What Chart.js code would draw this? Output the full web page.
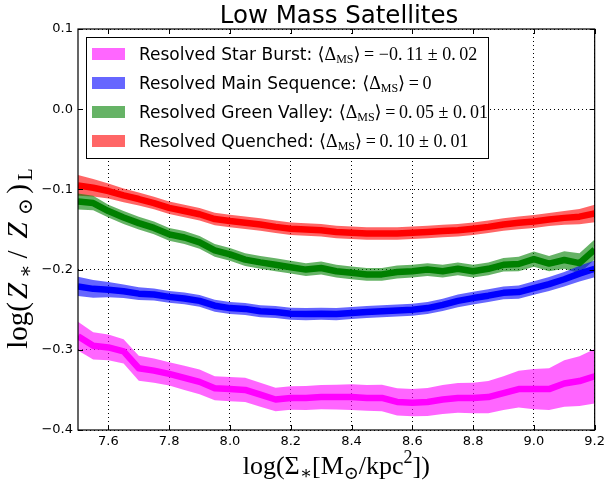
<!DOCTYPE html>
<html>
<head>
<meta charset="utf-8">
<script src="https://cdn.jsdelivr.net/npm/chart.js@4.4.0/dist/chart.umd.min.js"></script>
<style>
  html, body { margin: 0; padding: 0; background: #fff; }
  #wrap { width: 609px; height: 487px; }
</style>
</head>
<body>
<div id="wrap"><canvas id="chart"></canvas></div>
<script>
/* Low Mass Satellites: metallicity vs surface density by SF class */

const SIGMA = [7.5, 7.55, 7.6, 7.65, 7.7, 7.75, 7.8, 7.85, 7.9, 7.95,
               8.0, 8.05, 8.1, 8.15, 8.2, 8.25, 8.3, 8.35, 8.4, 8.45,
               8.5, 8.55, 8.6, 8.65, 8.7, 8.75, 8.8, 8.85, 8.9, 8.95,
               9.0, 9.05, 9.1, 9.15, 9.2];

const X_TICKS = [7.6, 7.8, 8.0, 8.2, 8.4, 8.6, 8.8, 9.0, 9.2];
const Y_TICKS = [-0.4, -0.3, -0.2, -0.1, 0.0, 0.1];

// star burst
const SB_MED = [-0.283, -0.295, -0.297, -0.302, -0.323, -0.326, -0.330, -0.335, -0.340, -0.348,
                -0.349, -0.350, -0.356, -0.362, -0.360, -0.360, -0.359, -0.359, -0.359, -0.360,
                -0.360, -0.365, -0.366, -0.365, -0.362, -0.360, -0.360, -0.359, -0.354, -0.349,
                -0.349, -0.349, -0.342, -0.339, -0.333];
const SB_ERR = [0.018, 0.017, 0.016, 0.015, 0.0155, 0.015, 0.0146, 0.015, 0.0154, 0.015,
                0.015, 0.015, 0.015, 0.0146, 0.0146, 0.015, 0.015, 0.0155, 0.016, 0.016,
                0.0165, 0.017, 0.017, 0.0175, 0.018, 0.0185, 0.019, 0.020, 0.021, 0.023,
                0.025, 0.026, 0.029, 0.031, 0.034];

// main sequence
const MS_MED = [-0.221, -0.224, -0.225, -0.227, -0.230, -0.231, -0.234, -0.236, -0.239, -0.245,
                -0.248, -0.249, -0.252, -0.253, -0.255, -0.2555, -0.255, -0.2555, -0.254, -0.253,
                -0.252, -0.251, -0.250, -0.248, -0.244, -0.239, -0.2355, -0.2325, -0.229, -0.228,
                -0.223, -0.218, -0.212, -0.205, -0.199];
const MS_ERR = [0.012, 0.011, 0.0095, 0.0085, 0.008, 0.0075, 0.0073, 0.0073, 0.0073, 0.0075,
                0.0075, 0.0075, 0.0075, 0.0075, 0.0075, 0.0075, 0.0075, 0.0075, 0.0075, 0.0075,
                0.0075, 0.0075, 0.0075, 0.0075, 0.0075, 0.0078, 0.008, 0.008, 0.008, 0.0082,
                0.0085, 0.0088, 0.009, 0.0097, 0.0104];

// green valley
const GV_MED = [-0.115, -0.117, -0.127, -0.135, -0.142, -0.148, -0.156, -0.160, -0.166, -0.176,
                -0.181, -0.1875, -0.191, -0.194, -0.197, -0.200, -0.198, -0.202, -0.204, -0.206,
                -0.206, -0.203, -0.202, -0.200, -0.202, -0.199, -0.202, -0.199, -0.194, -0.193,
                -0.187, -0.1925, -0.188, -0.192, -0.175];
const GV_ERR = [0.010, 0.009, 0.008, 0.008, 0.008, 0.008, 0.008, 0.008, 0.008, 0.008,
                0.008, 0.008, 0.008, 0.008, 0.008, 0.008, 0.008, 0.008, 0.008, 0.008,
                0.008, 0.008, 0.008, 0.008, 0.008, 0.008, 0.008, 0.008, 0.0085, 0.009,
                0.0095, 0.0095, 0.011, 0.0125, 0.0125];

// quenched
const Q_MED = [-0.095, -0.098, -0.102, -0.1075, -0.112, -0.117, -0.123, -0.127, -0.131, -0.137,
               -0.1395, -0.1415, -0.1438, -0.1467, -0.149, -0.150, -0.151, -0.153, -0.154, -0.155,
               -0.155, -0.155, -0.154, -0.153, -0.152, -0.151, -0.149, -0.1467, -0.1438, -0.1417,
               -0.140, -0.1375, -0.1355, -0.134, -0.130];
const Q_ERR = [0.013, 0.011, 0.0095, 0.0085, 0.008, 0.0078, 0.0078, 0.0078, 0.0078, 0.0078,
               0.0078, 0.0078, 0.0078, 0.0078, 0.0078, 0.0078, 0.0078, 0.0078, 0.0078, 0.0078,
               0.0078, 0.0078, 0.0078, 0.0078, 0.0078, 0.0078, 0.0078, 0.0078, 0.0078, 0.008,
               0.008, 0.0082, 0.0085, 0.0095, 0.011];

const LEGEND_NAMES = ['Resolved Star Burst:', 'Resolved Main Sequence:',
                      'Resolved Green Valley:', 'Resolved Quenched:'];
const LEGEND_VALUES = ['\u2009= \u22120.\u200911 \u00b1 0.\u200902',
                       '\u2009=\u20090',
                       '\u2009=\u20090.\u200905 \u00b1 0.\u200901',
                       '\u2009=\u20090.\u200910 \u00b1 0.\u200901'];

const LINE_COLORS = ['#ff00ff', '#0000ff', '#008000', '#ff0000'];
const BAND_COLORS = ['rgba(255,0,255,0.6)', 'rgba(0,0,255,0.6)', 'rgba(0,128,0,0.6)', 'rgba(255,0,0,0.6)'];
const PATCH_COLORS = ['#ff66ff', '#6666ff', '#66b366', '#ff6666'];

const SERIES = [[SB_MED, SB_ERR], [MS_MED, MS_ERR], [GV_MED, GV_ERR], [Q_MED, Q_ERR]];

const SANS = '"DejaVu Sans"';
const SERIF = '"Liberation Serif", "DejaVu Serif", serif';

/* ── DATASETS: band (upper fills to lower) + median line ─────── */
const datasets = [];
SERIES.forEach(([med, err], i) => {
  datasets.push({
    data: SIGMA.map((x, k) => ({ x, y: med[k] + err[k] })),
    backgroundColor: BAND_COLORS[i], borderColor: 'rgba(0,0,0,0)', borderWidth: 0,
    pointRadius: 0, fill: '+1', clip: 0
  });
  datasets.push({
    data: SIGMA.map((x, k) => ({ x, y: med[k] - err[k] })),
    borderColor: 'rgba(0,0,0,0)', borderWidth: 0, pointRadius: 0, fill: false, clip: 0
  });
});
SERIES.forEach(([med], i) => {
  datasets.push({
    data: SIGMA.map((x, k) => ({ x, y: med[k] })),
    borderColor: LINE_COLORS[i], borderWidth: 6.5, borderJoinStyle: 'round',
    pointRadius: 0, fill: false, clip: 0
  });
});

/* draw a run of text pieces, each with its own font and baseline shift;
   a piece with w gets a fixed slot and is centred in it */
function drawRich(ctx, x, y, parts, align) {
  const adv = p => { ctx.font = p.f; return p.w || ctx.measureText(p.t).width; };
  const w = parts.reduce((s, p) => s + adv(p), 0);
  let cx = align === 'center' ? x - w / 2 : x;
  ctx.textAlign = 'left';
  ctx.textBaseline = 'alphabetic';
  parts.forEach(p => {
    ctx.font = p.f;
    const mw = ctx.measureText(p.t).width;
    const slot = p.w || mw;
    ctx.fillText(p.t, cx + (slot - mw) / 2, y + (p.dy || 0));
    cx += slot;
  });
  return cx;
}

const decor = {
  id: 'decor',
  afterDraw(chart) {
    const { ctx, chartArea: a, scales: { x, y } } = chart;
    ctx.save();
    ctx.fillStyle = '#000';
    ctx.strokeStyle = '#000';

    // inward ticks on all four sides
    ctx.lineWidth = 1;
    ctx.beginPath();
    X_TICKS.forEach(v => {
      const px = Math.round(x.getPixelForValue(v)) + 0.5;
      ctx.moveTo(px, a.bottom); ctx.lineTo(px, a.bottom - 5);
      ctx.moveTo(px, a.top); ctx.lineTo(px, a.top + 5);
    });
    Y_TICKS.forEach(v => {
      const py = Math.round(y.getPixelForValue(v)) + 0.5;
      ctx.moveTo(a.left, py); ctx.lineTo(a.left + 5, py);
      ctx.moveTo(a.right, py); ctx.lineTo(a.right - 5, py);
    });
    ctx.stroke();

    // frame
    ctx.lineWidth = 1.2;
    ctx.strokeRect(a.left, a.top, a.right - a.left, a.bottom - a.top);

    // title
    ctx.font = '24.5px ' + SANS;
    ctx.textAlign = 'center';
    ctx.textBaseline = 'alphabetic';
    ctx.fillText('Low Mass Satellites', 339, 23);

    // x axis title
    const big = '26px ' + SERIF, small = '18px ' + SERIF;
    drawRich(ctx, (a.left + a.right) / 2, 474, [
      { t: 'log(\u03a3', f: big },
      { t: '\u2217', f: small, dy: 5 },
      { t: '[M', f: big },
      { t: '\u2299', f: small, dy: 5 },
      { t: '/kpc', f: big },
      { t: '2', f: small, dy: -11 },
      { t: '])', f: big }
    ], 'center');

    // y axis title, rotated
    const ybig = '29px ' + SERIF, ysmall = '20px ' + SERIF;
    ctx.save();
    ctx.translate(27, 257);
    ctx.rotate(-Math.PI / 2);
    drawRich(ctx, 0, 0, [
      { t: 'log(', f: ybig, w: 42 },
      { t: 'Z', f: 'italic ' + ybig, w: 27 },
      { t: '\u2217', f: ysmall, dy: 5, w: 13 },
      { t: '/', f: ybig, w: 20 },
      { t: 'Z', f: 'italic ' + ybig, w: 28 },
      { t: '\u2299', f: ysmall, dy: 5, w: 20 },
      { t: ')', f: ybig, w: 15 },
      { t: 'L', f: ysmall, dy: 5, w: 14 }
    ], 'center');
    ctx.restore();

    // legend
    const bx = 86, by = 37, bw = 402, bh = 121;
    ctx.fillStyle = '#fff';
    ctx.fillRect(bx, by, bw, bh);
    ctx.lineWidth = 1;
    ctx.strokeRect(bx + 0.5, by + 0.5, bw, bh);
    LEGEND_NAMES.forEach((name, i) => {
      const yc = 54 + i * 29;
      ctx.fillStyle = PATCH_COLORS[i];
      ctx.fillRect(92, yc - 6, 33, 12);
      ctx.fillStyle = '#000';
      drawRich(ctx, 139, yc + 6, [
        { t: name + ' ', f: '17px ' + SANS },
        { t: '\u27e8\u0394', f: '18px ' + SERIF },
        { t: 'MS', f: '12px ' + SERIF, dy: 3 },
        { t: '\u27e9' + LEGEND_VALUES[i], f: '18px ' + SERIF }
      ], 'left');
    });
    ctx.restore();
  }
};

const tickFont = { family: 'DejaVu Sans', size: 13 };

new Chart(document.getElementById('chart'), {
  type: 'line',
  data: { datasets },
  options: {
    responsive: true,
    maintainAspectRatio: false,
    animation: false,
    layout: { padding: { top: 29, right: 12, left: 0, bottom: 0 } },
    plugins: {
      legend: { display: false },
      tooltip: { enabled: false },
      filler: { drawTime: 'beforeDatasetsDraw' }
    },
    elements: { line: { tension: 0 } },
    scales: {
      x: {
        type: 'linear', min: 7.5, max: 9.2,
        afterBuildTicks: s => { s.ticks = X_TICKS.map(v => ({ value: v })); },
        afterFit: s => { s.height = 57; },
        grid: { color: '#000', lineWidth: 1, drawTicks: false },
        border: { display: false, dash: [1, 3] },
        ticks: { padding: 4, autoSkip: false, maxRotation: 0, color: '#000', font: tickFont,
                 callback: v => v.toFixed(1) }
      },
      y: {
        type: 'linear', min: -0.4, max: 0.1,
        afterBuildTicks: s => { s.ticks = Y_TICKS.map(v => ({ value: v })); },
        afterFit: s => { s.width = 78; },
        grid: { color: '#000', lineWidth: 1, drawTicks: false },
        border: { display: false, dash: [1, 3] },
        ticks: { padding: 5, color: '#000', font: tickFont,
                 callback: v => v.toFixed(1).replace('-', '\u2212') }
      }
    }
  },
  plugins: [decor]
});
</script>
</body>
</html>
